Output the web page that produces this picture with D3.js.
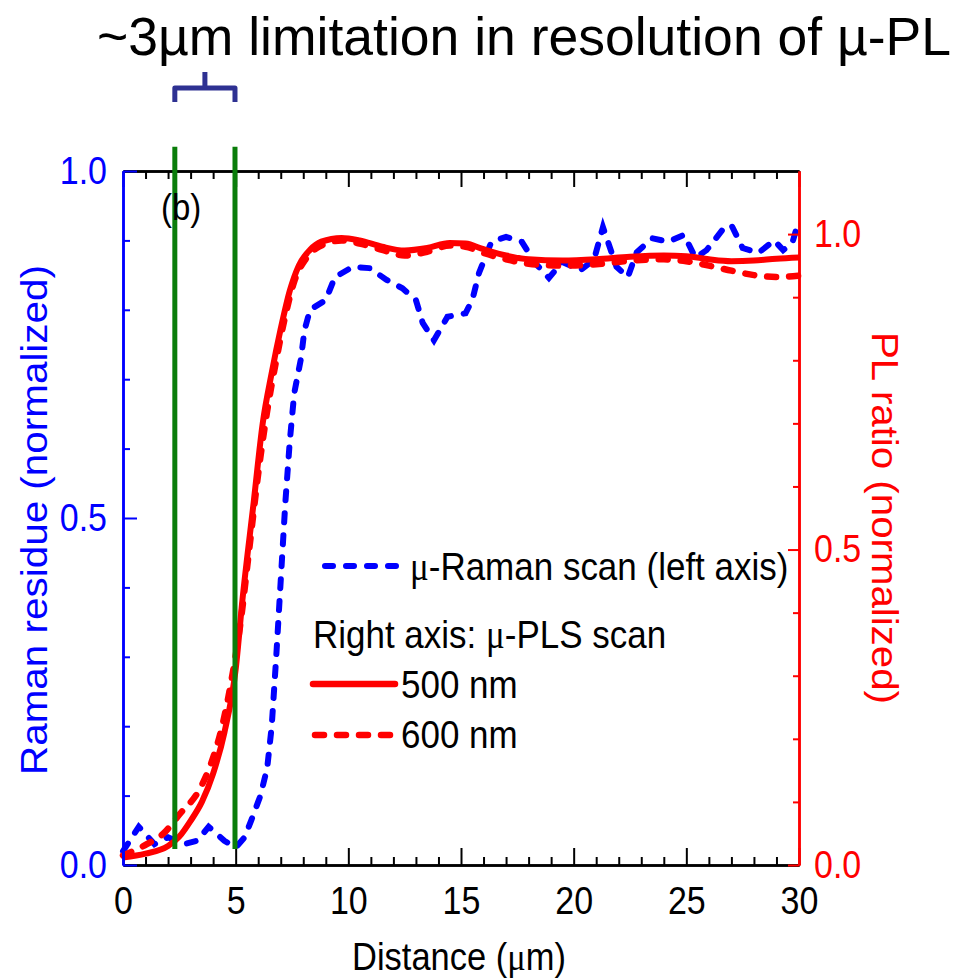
<!DOCTYPE html>
<html>
<head>
<meta charset=utf-8 />
<title>Raman vs PL scan</title>
<style type="text/css">
  body { margin: 0; background: #fff; }
  svg text { font-family: "Liberation Sans", Arial, sans-serif; }
</style>
<script src="https://d3js.org/d3.v7.min.js"></script>
</head>
<body>
<div id="chart-container"></div>
<script>

// micro-Raman scan (left axis)
var ramanX = [0, 0.7, 1.4, 2.0, 2.7, 3.3, 3.8, 4.5, 5.0, 5.4, 5.7, 6.1, 6.4, 6.6, 6.8, 7.0, 7.2, 7.4, 7.6, 7.9,
              8.05, 8.3, 9.0, 9.4, 10.2, 10.95, 11.7, 12.4, 13.0, 13.3, 13.8, 14.4, 15.2, 15.5, 15.8, 16.35, 17.0, 17.7,
              18.3, 18.9, 19.5, 20.3, 20.9, 21.3, 21.9, 22.4, 22.8, 23.5, 24.2, 24.9, 25.4, 25.9, 26.6, 27.0, 27.5,
              28.2, 28.9, 29.3, 29.7, 30];
var ramanY = [0.02, 0.055, 0.03, 0.04, 0.03, 0.035, 0.055, 0.035, 0.025, 0.04, 0.065, 0.10, 0.14, 0.20, 0.30, 0.41, 0.52, 0.61, 0.68, 0.73,
              0.77, 0.80, 0.814, 0.847, 0.862, 0.86, 0.843, 0.831, 0.814, 0.781, 0.756, 0.79, 0.795, 0.814, 0.853, 0.898, 0.905, 0.898,
              0.867, 0.846, 0.869, 0.857, 0.872, 0.919, 0.862, 0.847, 0.883, 0.903, 0.898, 0.908, 0.875, 0.886, 0.915, 0.922, 0.889,
              0.882, 0.90, 0.886, 0.896, 0.93];

// micro-PL scan, 500 nm (right axis)
var pl500X = [0, 1, 2, 2.5, 3, 3.5, 4, 4.5, 5, 5.3, 5.8, 6.2, 6.6, 7.0, 7.4, 7.8, 8.3, 8.8, 9.7, 10.5, 11.5, 12.5,
              13.5, 14.5, 15.2, 16, 17, 18, 19.5, 21, 22.5, 24, 25, 26, 27, 28, 29, 30];
var pl500Y = [0.012, 0.018, 0.03, 0.045, 0.07, 0.10, 0.145, 0.21, 0.31, 0.42, 0.575, 0.70, 0.78, 0.85, 0.91, 0.95, 0.975, 0.988, 0.994, 0.99, 0.98, 0.974,
              0.978, 0.986, 0.985, 0.976, 0.966, 0.96, 0.958, 0.96, 0.964, 0.966, 0.965, 0.96, 0.957, 0.958, 0.961, 0.963];

// micro-PL scan, 600 nm (right axis)
var pl600X = [0, 1, 1.8, 2.5, 3.4, 3.9, 4.4, 4.8, 5.2, 5.6, 6.0, 6.4, 6.8, 7.2, 7.6, 8.1, 8.7, 9.7, 10.5, 11.5, 12.5,
              13.5, 14.5, 15.2, 16, 17, 18, 19.5, 21, 22.5, 24, 25, 26, 27, 28, 29, 30];
var pl600Y = [0.015, 0.032, 0.05, 0.08, 0.12, 0.16, 0.22, 0.29, 0.38, 0.50, 0.62, 0.72, 0.80, 0.87, 0.925, 0.96, 0.98, 0.99, 0.985, 0.975, 0.966,
              0.972, 0.982, 0.98, 0.97, 0.96, 0.953, 0.95, 0.952, 0.958, 0.96, 0.957, 0.95, 0.942, 0.935, 0.932, 0.934];

// resolution markers (distance, µm)
var markX = [2.3, 4.97];

var xTicks = [0, 5, 10, 15, 20, 25, 30];
var leftTicks = [0, 0.5, 1.0];
var rightTicks = [0, 0.5, 1.0];

var blue = "#0000ff", red = "#ff0000", green = "#0a7d0a";
var tall = 1.12; // the chart text is a bit taller than it is wide

var margin = {top: 171, right: 167, bottom: 114, left: 123},
    width = 966 - margin.left - margin.right,
    height = 979 - margin.top - margin.bottom;

var root = d3.select("#chart-container")
  .append("svg")
    .attr("width", 966)
    .attr("height", 979);

root.append("rect").attr("width", 966).attr("height", 979).attr("fill", "#fff");

var svg = root.append("g")
    .attr("transform", "translate(" + margin.left + "," + margin.top + ")");

var x = d3.scaleLinear().domain([0, 30]).range([0, width]);
var yL = d3.scaleLinear().domain([0, 1]).range([height, 0]);
var yR = d3.scaleLinear().domain([0, 1.1]).range([height, 0]);

// stretch text vertically around its own anchor point
function stretch(sel, k) {
  sel.each(function() {
    var t = d3.select(this);
    var xx = +t.attr("x") || 0, yy = +t.attr("y") || 0;
    t.attr("transform", "translate(" + xx + "," + yy + ") scale(1," + k + ") translate(" + (-xx) + "," + (-yy) + ")");
  });
}

// title + bracket
root.append("text")
    .attr("x", 524).attr("y", 55)
    .attr("text-anchor", "middle")
    .style("font-size", "53.5px")
    .text("~3\u00b5m limitation in resolution of \u00b5-PL");

var bx0 = margin.left + x(markX[0]), bx1 = margin.left + x(markX[1]), bm = (bx0 + bx1) / 2;
root.append("path")
    .attr("d", "M" + bx0 + ",102 V88 H" + bx1 + " V102 M" + bm + ",88 V72")
    .attr("fill", "none")
    .attr("stroke", "#2e3192")
    .attr("stroke-width", 5)
    .attr("stroke-linejoin", "round");

// curves
var lineL = d3.line().x(d => x(d[0])).y(d => yL(d[1]));
var lineR = d3.line().x(d => x(d[0])).y(d => yR(d[1])).curve(d3.curveMonotoneX);

svg.append("path")
    .datum(ramanX.map((v, i) => [v, ramanY[i]]))
    .attr("d", lineL)
    .attr("fill", "none")
    .attr("stroke", blue)
    .attr("stroke-width", 6)
    .attr("stroke-linecap", "round")
    .attr("stroke-dasharray", "9,13");

svg.append("path")
    .datum(pl600X.map((v, i) => [v, pl600Y[i]]))
    .attr("d", lineR)
    .attr("fill", "none")
    .attr("stroke", red)
    .attr("stroke-width", 6.5)
    .attr("stroke-linecap", "round")
    .attr("stroke-dasharray", "9,13");

svg.append("path")
    .datum(pl500X.map((v, i) => [v, pl500Y[i]]))
    .attr("d", lineR)
    .attr("fill", "none")
    .attr("stroke", red)
    .attr("stroke-width", 6);

// axes
function styleAxis(g, color) {
  g.select(".domain").attr("stroke", color).attr("stroke-width", 2.5);
  g.selectAll(".tick line").attr("stroke", color).attr("stroke-width", 2);
  g.selectAll(".tick text").attr("fill", color).style("font-size", "34px")
    .style("font-family", "'Liberation Sans', Arial, sans-serif")
    .call(stretch, tall);
}

var minorX = d3.range(0, 31, 1).filter(d => d % 5 != 0);
var minorY = d3.range(1, 10).filter(d => d != 5).map(d => d / 10);

// top
svg.append("g").call(d3.axisTop(x).tickValues(minorX).tickSizeInner(-8).tickSizeOuter(0).tickFormat(""))
  .call(g => styleAxis(g, "#000"));
svg.append("g").call(d3.axisTop(x).tickValues(xTicks).tickSizeInner(-16).tickSizeOuter(0).tickFormat(""))
  .call(g => styleAxis(g, "#000"));

// bottom
svg.append("g").attr("transform", "translate(0," + height + ")")
  .call(d3.axisBottom(x).tickValues(minorX).tickSizeInner(-8).tickSizeOuter(0).tickFormat(""))
  .call(g => styleAxis(g, "#000"));
svg.append("g").attr("transform", "translate(0," + height + ")")
  .call(d3.axisBottom(x).tickValues(xTicks).tickSizeInner(-17).tickSizeOuter(0).tickPadding(22).tickFormat(d3.format("d")))
  .call(g => styleAxis(g, "#000"));

// left
svg.append("g").call(d3.axisLeft(yL).tickValues(minorY).tickSizeInner(-7).tickSizeOuter(0).tickFormat(""))
  .call(g => styleAxis(g, blue));
svg.append("g").call(d3.axisLeft(yL).tickValues(leftTicks).tickSizeInner(-14).tickSizeOuter(0).tickPadding(16).tickFormat(d3.format(".1f")))
  .call(g => styleAxis(g, blue));

// right
svg.append("g").attr("transform", "translate(" + width + ",0)")
  .call(d3.axisRight(yR).tickValues(d3.range(1, 11).filter(d => d != 5 && d != 10).map(d => d / 10)).tickSizeInner(-6).tickSizeOuter(0).tickFormat(""))
  .call(g => styleAxis(g, red));
svg.append("g").attr("transform", "translate(" + width + ",0)")
  .call(d3.axisRight(yR).tickValues(rightTicks).tickSizeInner(-11).tickSizeOuter(0).tickPadding(15).tickFormat(d3.format(".1f")))
  .call(g => styleAxis(g, red));

// green resolution lines
svg.selectAll(".mark")
  .data(markX)
  .enter()
  .append("line")
    .attr("class", "mark")
    .attr("x1", d => x(d)).attr("x2", d => x(d))
    .attr("y1", yL(0.023)).attr("y2", yL(1.035))
    .attr("stroke", green)
    .attr("stroke-width", 5);

// panel label
svg.append("text")
    .attr("x", 38).attr("y", 49)
    .style("font-size", "33px")
    .text("(b)")
    .call(stretch, tall);

// axis titles
var xt = svg.append("text")
    .attr("x", x(15) - 2).attr("y", height + 105)
    .attr("text-anchor", "middle")
    .style("font-size", "34.5px");
xt.append("tspan").text("Distance (");
xt.append("tspan").style("font-family", "'Liberation Serif', serif").text("\u03bc");
xt.append("tspan").text("m)");
xt.call(stretch, tall);

root.append("text")
    .attr("transform", "translate(47,520) rotate(-90)")
    .attr("text-anchor", "middle")
    .attr("fill", blue)
    .attr("textLength", 510)
    .attr("lengthAdjust", "spacingAndGlyphs")
    .style("font-size", "37px")
    .text("Raman residue (normalized)");

root.append("text")
    .attr("transform", "translate(872,518) rotate(90)")
    .attr("text-anchor", "middle")
    .attr("fill", red)
    .attr("textLength", 372)
    .attr("lengthAdjust", "spacingAndGlyphs")
    .style("font-size", "36px")
    .text("PL ratio (normalized)");

// legend
var legend = root.append("g");
function legendText(xp, yp, before, after) {
  var t = legend.append("text").attr("x", xp).attr("y", yp).style("font-size", "35px");
  if (before) t.append("tspan").text(before);
  if (after !== undefined) {
    t.append("tspan").style("font-family", "'Liberation Serif', serif").text("\u03bc");
    t.append("tspan").text(after);
  }
  t.call(stretch, tall);
  return t;
}
legend.append("line").attr("x1", 325).attr("x2", 401).attr("y1", 566).attr("y2", 566)
  .attr("stroke", blue).attr("stroke-width", 6).attr("stroke-linecap", "round").attr("stroke-dasharray", "8,13");
legendText(410, 580, null, "-Raman scan (left axis)");
legendText(313, 648, "Right axis: ", "-PLS scan");
legend.append("line").attr("x1", 313).attr("x2", 395).attr("y1", 684).attr("y2", 684)
  .attr("stroke", red).attr("stroke-width", 6.5).attr("stroke-linecap", "round");
legendText(401, 698, "500 nm");
legend.append("line").attr("x1", 315).attr("x2", 395).attr("y1", 735).attr("y2", 735)
  .attr("stroke", red).attr("stroke-width", 6.5).attr("stroke-linecap", "round").attr("stroke-dasharray", "9,13");
legendText(401, 748, "600 nm");

</script>
</body>
</html>
